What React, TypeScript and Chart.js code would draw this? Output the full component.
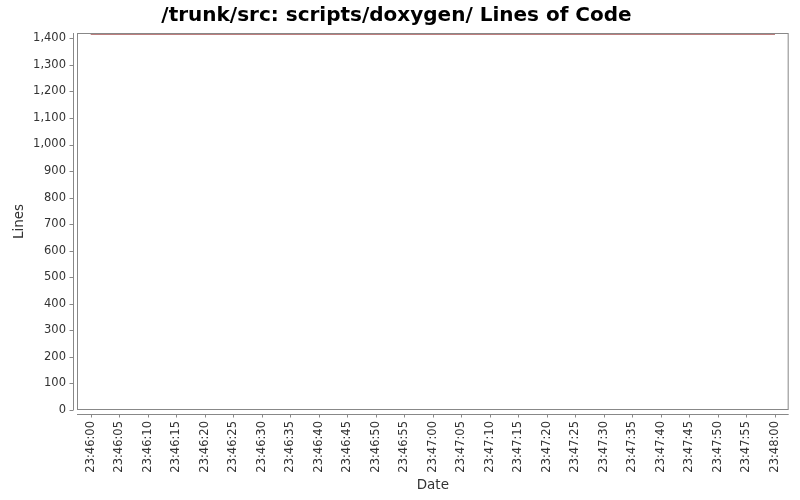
import { Chart, registerables } from 'chart.js';
import { useEffect, useRef } from 'react';

Chart.register(...registerables);

const times = ['23:46:00', '23:46:30', '23:47:00', '23:47:30', '23:48:00'];
const lines = [1417, 1417, 1417, 1417, 1417];

const baseTime = '23:46:00';
const tickStep = 5;

const toSeconds = (t: string) => {
  const [h, m, s] = t.split(':').map(Number);
  return h * 3600 + m * 60 + s;
};

const pad2 = (n: number) => String(n).padStart(2, '0');

const formatTime = (offset: number) => {
  const total = toSeconds(baseTime) + Math.round(offset);
  return `${pad2(Math.floor(total / 3600) % 24)}:${pad2(Math.floor(total / 60) % 60)}:${pad2(total % 60)}`;
};

const FONT = "'DejaVu Sans', sans-serif";
const AXIS_GRAY = '#888888';
const TEXT = '#333333';

// plot border plus axis lines that sit a few px outside of the plot, JFreeChart style
const plotFrame = {
  id: 'plotFrame',
  afterDatasetsDraw(chart: Chart) {
    const { ctx, chartArea: a, scales } = chart;
    const gap = 4;
    ctx.save();
    ctx.strokeStyle = AXIS_GRAY;
    ctx.lineWidth = 1;
    ctx.strokeRect(a.left + 0.5, a.top + 0.5, a.right - a.left - 1, a.bottom - a.top - 1);

    const ax = Math.round(a.left - gap) + 0.5;
    const ay = Math.round(a.bottom + gap) + 0.5;
    ctx.beginPath();
    ctx.moveTo(ax, a.top);
    ctx.lineTo(ax, a.bottom);
    scales.y.ticks.forEach((t) => {
      const y = Math.round(scales.y.getPixelForValue(t.value)) + 0.5;
      ctx.moveTo(ax - 4, y);
      ctx.lineTo(ax, y);
    });
    ctx.moveTo(a.left, ay);
    ctx.lineTo(a.right, ay);
    scales.x.ticks.forEach((t) => {
      const x = Math.round(scales.x.getPixelForValue(t.value)) + 0.5;
      ctx.moveTo(x, ay);
      ctx.lineTo(x, ay + 3);
    });
    ctx.stroke();
    ctx.restore();
  },
};

const LinesOfCodeChart = () => {
  const canvasRef = useRef<HTMLCanvasElement | null>(null);

  useEffect(() => {
    document.body.style.margin = '0';
    if (!canvasRef.current) return;
    const xs = times.map((t) => toSeconds(t) - toSeconds(baseTime));
    const span = xs[xs.length - 1] - xs[0];

    const chart = new Chart(canvasRef.current, {
      type: 'line',
      data: {
        datasets: [
          {
            data: xs.map((x, i) => ({ x, y: lines[i] })),
            borderColor: '#7a0000',
            borderWidth: 1.3,
            pointRadius: 0,
            tension: 0,
            clip: false,
          },
        ],
      },
      options: {
        animation: false,
        responsive: false,
        layout: { padding: { left: 4, right: 11, top: 0, bottom: 0 } },
        plugins: {
          legend: { display: false },
          tooltip: { enabled: false },
          title: {
            display: true,
            text: '/trunk/src: scripts/doxygen/ Lines of Code',
            color: '#000000',
            font: { family: FONT, size: 20, weight: 'bold' },
            padding: { top: 4, bottom: 5 },
          },
        },
        scales: {
          x: {
            type: 'linear',
            min: xs[0] - span * 0.02,
            max: xs[xs.length - 1] + span * 0.02,
            grid: { display: false, drawTicks: false },
            border: { display: false },
            afterFit: (s) => {
              s.height = 90;
            },
            ticks: {
              stepSize: tickStep,
              includeBounds: false,
              autoSkip: false,
              minRotation: 90,
              maxRotation: 90,
              padding: 11,
              color: TEXT,
              font: { family: FONT, size: 11.5 },
              callback: (v) => formatTime(Number(v)),
            },
            title: {
              display: true,
              text: 'Date',
              color: TEXT,
              font: { family: FONT, size: 13.5 },
              padding: { top: 6, bottom: 6 },
            },
          },
          y: {
            min: 0,
            max: 1420,
            grid: { display: false, drawTicks: false },
            border: { display: false },
            afterFit: (s) => {
              s.width = 73;
            },
            ticks: {
              stepSize: 100,
              includeBounds: false,
              padding: 11,
              color: TEXT,
              font: { family: FONT, size: 11.5 },
              callback: (v) => Number(v).toLocaleString('en-US'),
            },
            title: {
              display: true,
              text: 'Lines',
              color: TEXT,
              font: { family: FONT, size: 13.5 },
              padding: { top: 7, bottom: 7 },
            },
          },
        },
      },
      plugins: [plotFrame],
    });

    return () => {
      chart.destroy();
    };
  }, []);

  return (
    <div style={{ width: 800, height: 500, background: '#ffffff' }}>
      <canvas ref={canvasRef} width={800} height={500} style={{ display: 'block' }} />
    </div>
  );
};

export default function App() {
  return <LinesOfCodeChart />;
}
